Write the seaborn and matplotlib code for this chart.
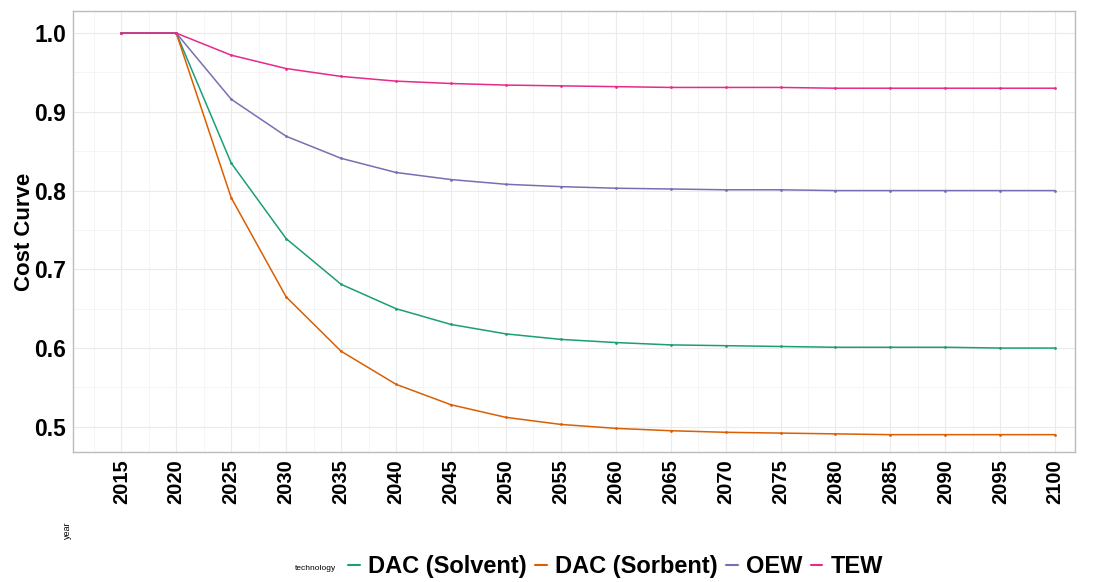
import numpy as np
import pandas as pd
import seaborn as sns
import matplotlib.pyplot as plt
from matplotlib.ticker import MultipleLocator

years = list(range(2015, 2101, 5))
dac_solvent = [1.0, 1.0, 0.835, 0.739, 0.681, 0.650, 0.630, 0.618, 0.611, 0.607, 0.604,
               0.603, 0.602, 0.601, 0.601, 0.601, 0.600, 0.600]
dac_sorbent = [1.0, 1.0, 0.791, 0.665, 0.596, 0.554, 0.528, 0.512, 0.503, 0.498, 0.495,
               0.493, 0.492, 0.491, 0.490, 0.490, 0.490, 0.490]
oew = [1.0, 1.0, 0.916, 0.869, 0.841, 0.823, 0.814, 0.808, 0.805, 0.803, 0.802,
       0.801, 0.801, 0.800, 0.800, 0.800, 0.800, 0.800]
tew = [1.0, 1.0, 0.972, 0.955, 0.945, 0.939, 0.936, 0.934, 0.933, 0.932, 0.931,
       0.931, 0.931, 0.930, 0.930, 0.930, 0.930, 0.930]
technologies = ["DAC (Solvent)", "DAC (Sorbent)", "OEW", "TEW"]
colors = ["#1B9E77", "#D95F02", "#7570B3", "#E7298A"]

df = pd.DataFrame({
    "year": years * 4,
    "cost": dac_solvent + dac_sorbent + oew + tew,
    "technology": np.repeat(technologies, len(years)),
})

sns.set_style("white")
plt.rcParams['font.family'] = ['Liberation Sans', 'DejaVu Sans']
plt.rcParams['text.color'] = 'black'
plt.rcParams['axes.labelcolor'] = 'black'
plt.rcParams['xtick.color'] = 'black'
plt.rcParams['ytick.color'] = 'black'

fig = plt.figure(figsize=(10.94, 5.82), dpi=100)
ax = fig.add_axes([0.0667, 0.2234, 0.9159, 0.7576])

sns.lineplot(data=df, x="year", y="cost", hue="technology", palette=colors,
             hue_order=technologies, linewidth=1.1, marker="o", markersize=2,
             markeredgewidth=0, ax=ax, legend=False)

ax.set_xlim(2010.6, 2101.8)
ax.set_ylim(0.468, 1.028)
ax.set_xticks(years)
ax.xaxis.set_minor_locator(MultipleLocator(2.5))
ax.yaxis.set_major_locator(MultipleLocator(0.1))
ax.yaxis.set_minor_locator(MultipleLocator(0.05))
ax.grid(True, which="major", color="#ebebeb", linewidth=0.8)
ax.grid(True, which="minor", color="#f4f4f4", linewidth=0.6)
ax.set_axisbelow(True)
for s in ax.spines.values():
    s.set_color("#bbbbbb")
    s.set_linewidth(1.0)

ax.tick_params(axis="x", which="major", rotation=90, labelsize=14.5, length=3, color="#555555", pad=2)
ax.tick_params(axis="y", which="major", labelsize=16.5, length=3, color="#555555", pad=2)
ax.tick_params(which="minor", length=0)
ax.set_yticklabels([f"{v:.1f}" for v in ax.get_yticks()])
for lab in ax.get_xticklabels() + ax.get_yticklabels():
    lab.set_fontweight("bold")

ax.set_ylabel("Cost Curve", fontsize=16, fontweight="bold")
ax.yaxis.set_label_coords(-0.038, 0.5)
ax.set_xlabel("year", fontsize=6.5, rotation=90)
ax.xaxis.set_label_coords(-0.005, -0.177)
ax.xaxis.label.set_verticalalignment("center")

handles = [plt.Line2D([0], [0], color=c, linewidth=1.5) for c in colors]
fig.text(0.288, 0.024, "technology", fontsize=6, va="center", ha="center")
leg = fig.legend(handles, technologies, loc="center left", bbox_to_anchor=(0.318, 0.026),
                 ncol=4, frameon=False, handlelength=0.5, handletextpad=0.35,
                 columnspacing=0.35, borderpad=0, borderaxespad=0,
                 prop={"size": 17, "weight": "bold"})

fig.savefig("out.png", dpi=100)
